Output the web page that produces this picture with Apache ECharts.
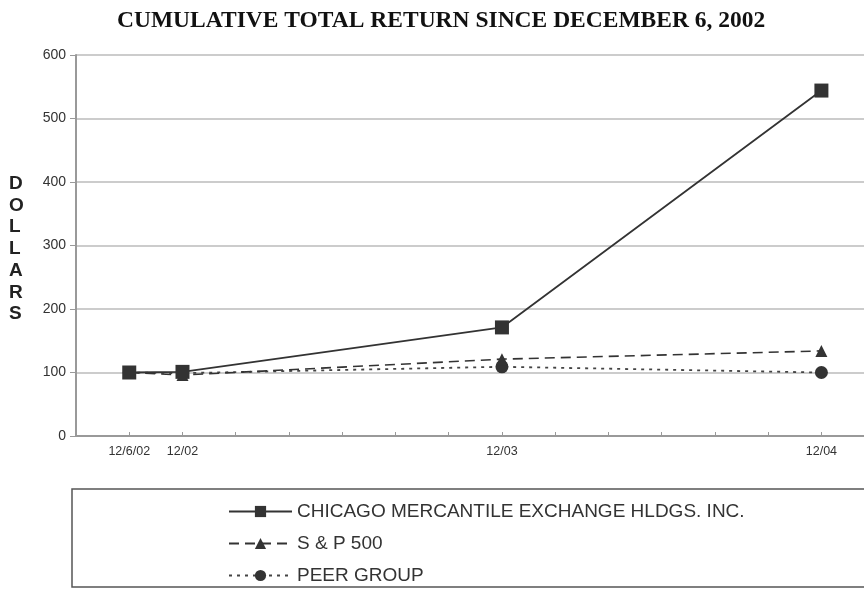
<!DOCTYPE html>
<html>
<head>
<meta charset="utf-8">
<script src="https://cdn.jsdelivr.net/npm/echarts@6/dist/echarts.min.js"></script>
<style>
  html, body { margin: 0; padding: 0; background: #fff; }
  #chart { width: 864px; height: 590px; }
</style>
</head>
<body>
<div id="chart"></div>
<script>
// x positions in 2-month steps from the axis origin
const tickLabels = { 1: '12/6/02', 2: '12/02', 8: '12/03', 14: '12/04' }
const xPos = [1, 2, 8, 14]
const cmeValues = [100, 101, 171, 544]
const spValues = [100, 96, 121, 134]
const peerValues = [100, 99, 109, 100]
const seriesNames = ['CHICAGO MERCANTILE EXCHANGE HLDGS. INC.', 'S & P 500', 'PEER GROUP']

const chart = echarts.init(document.getElementById('chart'))

const pairs = (vals) => vals.map((v, i) => [xPos[i], v])

const option = {
  animation: false,
  title: {
    text: 'CUMULATIVE TOTAL RETURN SINCE DECEMBER 6, 2002',
    left: 117,
    top: 9,
    padding: 0,
    textStyle: { fontFamily: 'Liberation Serif', fontWeight: 'bold', fontSize: 23.5, color: '#111' }
  },
  grid: { left: 76, right: 0, top: 55, bottom: 154 },
  xAxis: {
    type: 'value',
    min: 0,
    max: 14.8,
    interval: 1,
    axisLine: { lineStyle: { color: '#999', width: 2 } },
    axisTick: { show: true, inside: true, length: 4, lineStyle: { color: '#999' } },
    splitLine: { show: false },
    axisLabel: {
      margin: 9,
      fontFamily: 'Liberation Sans',
      fontSize: 12.5,
      color: '#333',
      showMaxLabel: false,
      formatter: (v) => tickLabels[v] || ''
    }
  },
  yAxis: {
    type: 'value',
    min: 0,
    max: 600,
    interval: 100,
    axisLine: { show: true, lineStyle: { color: '#999', width: 2 } },
    axisTick: { show: true, length: 6, lineStyle: { color: '#999' } },
    splitLine: { lineStyle: { color: '#bbb', width: 1.5 } },
    axisLabel: { margin: 10, fontFamily: 'Liberation Sans', fontSize: 14, color: '#333' }
  },
  legend: {
    orient: 'vertical',
    left: 228,
    top: 502,
    padding: 0,
    itemGap: 13,
    itemWidth: 63,
    itemHeight: 14,
    textStyle: { fontFamily: 'Liberation Sans', fontSize: 19, color: '#333' },
    data: seriesNames
  },
  graphic: [
    {
      type: 'rect',
      shape: { x: 72, y: 489, width: 800, height: 98 },
      style: { fill: 'none', stroke: '#555', lineWidth: 1.5 },
      silent: true
    },
    {
      type: 'text',
      left: 9,
      top: 173,
      style: {
        text: 'D\nO\nL\nL\nA\nR\nS',
        font: 'bold 19px "Liberation Sans"',
        lineHeight: 21.7,
        fill: '#222',
        align: 'center'
      }
    }
  ],
  series: [
    {
      name: seriesNames[0],
      type: 'line',
      data: pairs(cmeValues),
      symbol: 'rect',
      symbolSize: 14,
      itemStyle: { color: '#333' },
      lineStyle: { color: '#333', width: 1.8, type: 'solid' },
      z: 4
    },
    {
      name: seriesNames[1],
      type: 'line',
      data: pairs(spValues),
      symbol: 'triangle',
      symbolSize: 12,
      itemStyle: { color: '#333' },
      lineStyle: { color: '#333', width: 1.6, type: [10, 6] },
      z: 3
    },
    {
      name: seriesNames[2],
      type: 'line',
      data: pairs(peerValues),
      symbol: 'circle',
      symbolSize: 13,
      itemStyle: { color: '#333' },
      lineStyle: { color: '#444', width: 1.8, type: [3, 5] },
      z: 2
    }
  ]
}

chart.setOption(option)
</script>
</body>
</html>
